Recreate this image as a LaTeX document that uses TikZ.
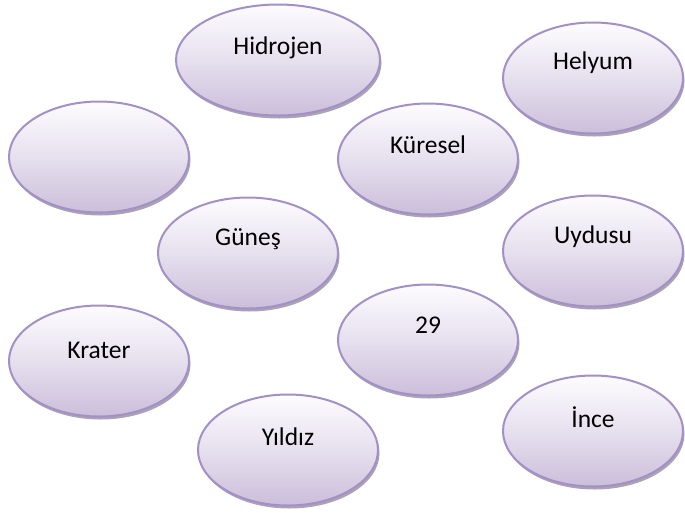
\documentclass[tikz,border=0pt]{standalone}
\usepackage{fontspec}
\setmainfont{Carlito}
\usetikzlibrary{shapes.geometric,shadows,calc}
\definecolor{bubbleline}{RGB}{162,144,198}
\definecolor{bubblebot}{RGB}{203,190,218}
\definecolor{bubbletop}{RGB}{253,252,255}
\definecolor{bubbleshadow}{RGB}{150,140,160}
\tikzset{
  bubble/.style={ellipse, draw=bubbleline, line width=2pt, inner sep=0pt,
    top color=bubbletop, bottom color=bubblebot, middle color=bubbletop!55!bubblebot,
    minimum width=180pt, minimum height=111pt,
    drop shadow={shadow xshift=1.5pt, shadow yshift=-3pt, fill=bubbleshadow, opacity=0.8}},
  lbl/.style={inner sep=0pt, font=\fontsize{25.5}{30}\selectfont, text=black}
}
\begin{document}
\begin{tikzpicture}[x=1pt,y=-1pt]
\useasboundingbox (0,0) rectangle (685,512);
\node[bubble, minimum width=204pt] (hid) at (278,60) {};
\node[lbl] (hidt) at ($(hid.center)+(0,-12)$) {Hidrojen};
\node[bubble] (hel) at (593,78) {};
\node[lbl] (helt) at ($(hel.center)+(0,-15)$) {Helyum};
\node[bubble] (emp) at (99,157) {};
\node[bubble] (kur) at (428,159) {};
\node[lbl] (kurt) at ($(kur.center)+(0,-14)$) {Küresel};
\node[bubble] (gun) at (248,253) {};
\node[lbl] (gunt) at ($(gun.center)+(0,-14)$) {Güneş};
\node[bubble] (uyd) at (593,251) {};
\node[lbl] (uydt) at ($(uyd.center)+(0,-14)$) {Uydusu};
\node[bubble] (yirmi) at (428,340) {};
\node[lbl] (yirmit) at ($(yirmi.center)+(0,-15)$) {29};
\node[bubble] (kra) at (99,361) {};
\node[lbl] (krat) at ($(kra.center)+(0,-11)$) {Krater};
\node[bubble] (inc) at (593,431) {};
\node[lbl] (inct) at ($(inc.center)+(0,-14)$) {İnce};
\node[bubble] (yil) at (288,450) {};
\node[lbl] (yilt) at ($(yil.center)+(0,-13)$) {Yıldız};
\end{tikzpicture}
\end{document}
